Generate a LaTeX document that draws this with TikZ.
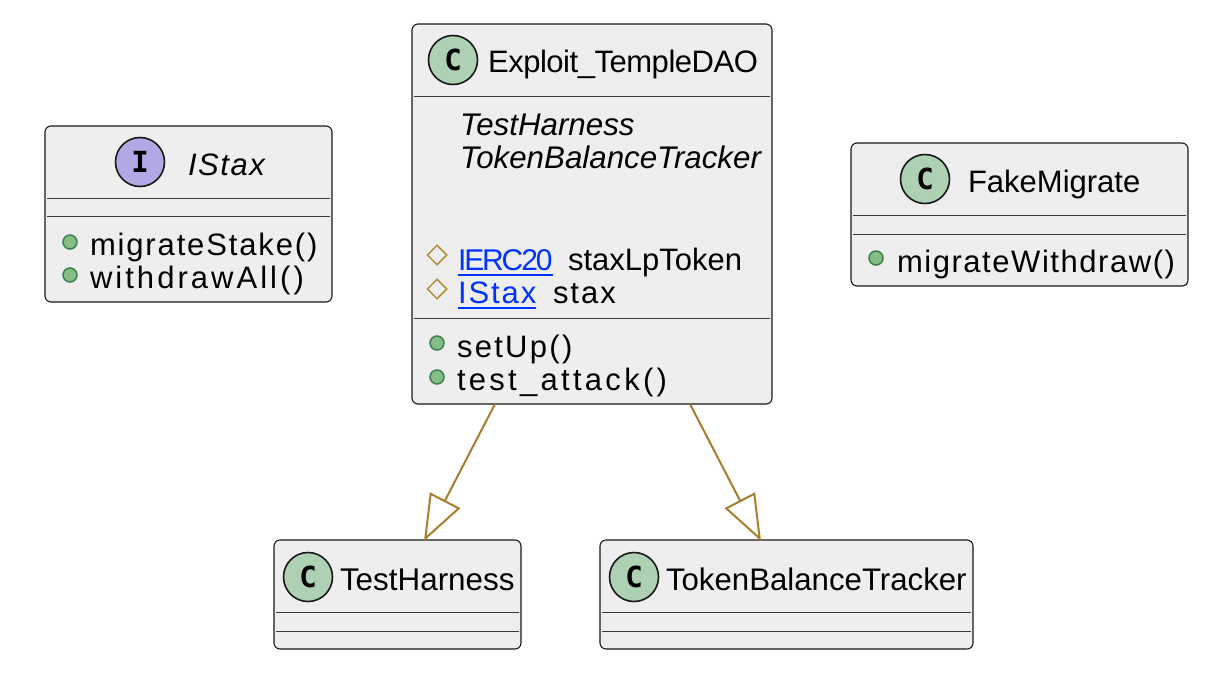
\documentclass[tikz,border=0pt]{standalone}
\usepackage{fontspec}
\setmainfont{Liberation Sans}
\newfontfamily\glyphF{DejaVu Sans Mono}
\usetikzlibrary{arrows.meta,calc,shapes.geometric}
\definecolor{boxfill}{HTML}{EEEEEE}
\definecolor{boxline}{HTML}{181818}
\definecolor{rel}{HTML}{A87E2E}
\definecolor{cgreen}{HTML}{ADD1B2}
\definecolor{ipurple}{HTML}{B4A7E5}
\definecolor{dotfill}{HTML}{84BE84}
\definecolor{dotline}{HTML}{3B7F4F}
\definecolor{diam}{HTML}{B38D3A}
\definecolor{linkblue}{HTML}{0033FF}
\newcommand\lnk[1]{\setbox0\hbox{#1}\rlap{\vrule height -4pt depth 5.5pt width \wd0}\box0}
\newcommand\sized[2]{\fontsize{#1}{32}\selectfont\addfontfeature{LetterSpace=#2}}
\tikzset{
  x=1pt,y=-1pt,
  cls/.style={draw=boxline,fill=boxfill,line width=1.1pt,rounded corners=6pt,anchor=north west,inner sep=0pt,outer sep=0pt},
  rulel/.style={draw=boxline!85!white,line width=0.9pt},
  badge/.style={circle,draw=boxline,line width=1.6pt,minimum size=49pt,inner sep=0pt,text=black,font=\fontsize{29}{29}\selectfont\glyphF\bfseries},
  txt/.style={anchor=base west,inner sep=0pt,outer sep=0pt,text=black,font=\fontsize{31}{32}\selectfont},
  pub/.style={circle,draw=dotline,fill=dotfill,line width=1.5pt,minimum size=14pt,inner sep=0pt},
  prot/.style={diamond,draw=diam,line width=1.5pt,minimum size=20pt,inner sep=0pt},
  gen/.style={draw=rel,line width=2pt,-{Triangle[open,length=46pt,width=34pt,line width=2pt]}},
}
\begin{document}
\begin{tikzpicture}
\useasboundingbox (0,0) rectangle (1209,699);
% IStax
\node[cls,minimum width=287pt,minimum height=176pt] (istax) at (45,126) {};
\draw[rulel] (47,198) -- (330,198);
\draw[rulel] (47,216) -- (330,216);
\node[badge,fill=ipurple] (istaxb) at (140,162) {I};
\node[txt,font=\itshape\sized{31}{5}] (istaxt) at (188,175) {IStax};
\node[pub] (d1) at (70,242) {};
\node[pub] (d2) at (70,275) {};
\node[txt,font=\sized{31}{6}] (m1) at (90,255) {migrateStake()};
\node[txt,font=\sized{31}{9.8}] (m2) at (90,288) {withdrawAll()};
% Exploit
\node[cls,minimum width=360pt,minimum height=380pt] (exploit) at (412,24) {};
\draw[rulel] (414,96) -- (770,96);
\draw[rulel] (414,318) -- (770,318);
\node[badge,fill=cgreen] (exb) at (453,60) {C};
\node[txt,font=\sized{31}{-1.5}] (ext) at (488,72) {Exploit\_TempleDAO};
\node[txt,font=\itshape\sized{31.3}{0}] (p1) at (460,135) {TestHarness};
\node[txt,font=\itshape\sized{31.3}{0}] (p2) at (460,168) {TokenBalanceTracker};
\node[prot] (q1) at (437,255) {};
\node[prot] (q2) at (437,289) {};
\node[txt,text=linkblue,font=\sized{30}{-7}] (f1) at (458,270) {\lnk{IERC20}};
\node[txt] (f1b) at (568,270) {staxLpToken};
\node[txt,text=linkblue,font=\sized{31}{6.3}] (f2) at (458,303) {\lnk{IStax}};
\node[txt,font=\sized{31}{6.5}] (f2b) at (553,303) {stax};
\node[pub] (d3) at (437,343) {};
\node[pub] (d4) at (437,377) {};
\node[txt,font=\sized{31}{7.4}] (m3) at (457,357) {setUp()};
\node[txt,font=\sized{31}{10.6}] (m4) at (457,390) {test\_attack()};
% FakeMigrate
\node[cls,minimum width=337pt,minimum height=143pt] (fake) at (851,143) {};
\draw[rulel] (853,215) -- (1186,215);
\draw[rulel] (853,234) -- (1186,234);
\node[badge,fill=cgreen] (fb) at (925,179) {C};
\node[txt] (ft) at (968,192) {FakeMigrate};
\node[pub] (d5) at (876,258) {};
\node[txt,font=\sized{31}{5}] (m5) at (897,272) {migrateWithdraw()};
% TestHarness
\node[cls,minimum width=247pt,minimum height=109pt] (th) at (274,540) {};
\draw[rulel] (276,612) -- (519,612);
\draw[rulel] (276,631) -- (519,631);
\node[badge,fill=cgreen] (thb) at (308,577) {C};
\node[txt,font=\sized{31.4}{0}] (tht) at (340,590) {TestHarness};
% TokenBalanceTracker
\node[cls,minimum width=373pt,minimum height=109pt] (tb) at (600,540) {};
\draw[rulel] (602,612) -- (971,612);
\draw[rulel] (602,631) -- (971,631);
\node[badge,fill=cgreen] (tbb) at (634,577) {C};
\node[txt,font=\sized{31.2}{0}] (tbt) at (666,590) {TokenBalanceTracker};
% generalisations
\draw[gen] ($(exploit.south west)+(83,0)$) -- ($(th.north west)+(150,1)$);
\draw[gen] ($(exploit.south west)+(278,0)$) -- ($(tb.north west)+(161,1)$);
\end{tikzpicture}
\end{document}
